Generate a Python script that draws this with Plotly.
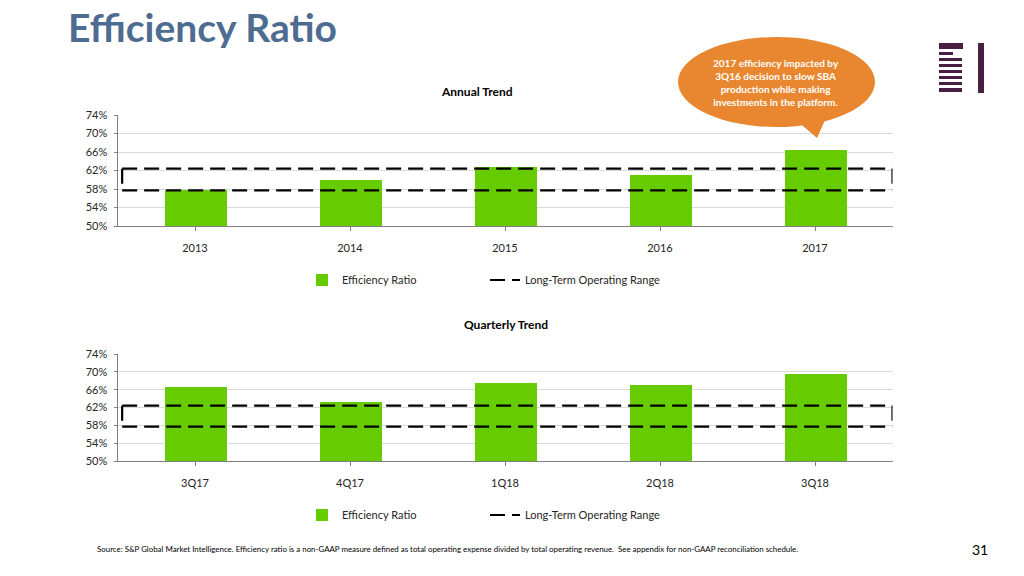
import numpy as np
import plotly.graph_objects as go

# ---- data ----
annual_years = ["2013", "2014", "2015", "2016", "2017"]
annual_eff = [57.8, 60.0, 62.8, 61.0, 66.4]
quarters = ["3Q17", "4Q17", "1Q18", "2Q18", "3Q18"]
quarterly_eff = [66.5, 63.2, 67.5, 67.0, 69.5]
range_low = 57.7
range_high = 62.4
y_ticks = [50, 54, 58, 62, 66, 70, 74]

W, H = 1024, 576
FONT = "Lato"
GREEN = "#66CC00"
TXT = "#262626"

def px(x):
    return x / W

def py(y):
    return 1 - y / H

fig = go.Figure()

x_left, x_right = 117.5, 892.5
top_dom = [py(226), py(115)]
bot_dom = [py(461), py(354)]

def add_chart(cats, vals, xa, ya, leg_bar, leg_rng):
    idx = list(range(len(cats)))
    fig.add_trace(go.Bar(x=idx, y=vals, marker=dict(color=GREEN, line=dict(width=0)),
                         width=0.4, name="Efficiency Ratio", xaxis=xa, yaxis=ya,
                         legend=leg_bar, showlegend=True, hoverinfo="skip"))
    n = len(cats)
    xl, xr = -0.47, n - 0.5
    # rectangle drawn as separate sides so each dash pattern starts at a corner
    rx = [xl, xr, None, xr, xr, None, xl, xr, None, xl, xl]
    ry = [range_high, range_high, None, range_high, range_low, None,
          range_low, range_low, None, range_high, range_low]
    fig.add_trace(go.Scatter(
        x=rx, y=ry, mode="lines", connectgaps=False,
        line=dict(color="black", width=2.2, dash="15px,7px"),
        name="Long-Term Operating Range", xaxis=xa, yaxis=ya, legend=leg_rng,
        showlegend=True, hoverinfo="skip"))

add_chart(annual_years, annual_eff, "x", "y", "legend", "legend2")
add_chart(quarters, quarterly_eff, "x2", "y2", "legend3", "legend4")

axis_common = dict(showgrid=False, showline=True, linecolor="#808080", linewidth=1,
                   ticks="outside", ticklen=4, tickcolor="#808080",
                   tickfont=dict(family=FONT, size=11, color=TXT), zeroline=False,
                   range=[-0.5, 4.5], fixedrange=True, tickmode="array",
                   tickvals=list(range(5)), automargin=False)
yaxis_common = dict(showgrid=True, gridcolor="#D9D9D9", gridwidth=1, showline=True,
                    linecolor="#808080", linewidth=1, ticks="outside", ticklen=3,
                    tickcolor="#808080", tickvals=y_ticks,
                    ticktext=[f"{v}%" for v in y_ticks], tickmode="array",
                    tickfont=dict(family=FONT, size=11, color=TXT), range=[50, 74],
                    zeroline=False, fixedrange=True, ticklabelstandoff=4, automargin=False)

fig.update_layout(
    width=W, height=H, margin=dict(l=0, r=0, t=0, b=0, pad=0, autoexpand=False),
    paper_bgcolor="white", plot_bgcolor="white", bargap=0,
    xaxis=dict(domain=[px(x_left), px(x_right)], anchor="y", ticktext=annual_years,
               ticklabelstandoff=8, **axis_common),
    yaxis=dict(domain=top_dom, anchor="x", **yaxis_common),
    xaxis2=dict(domain=[px(x_left), px(x_right)], anchor="y2", ticktext=quarters,
                ticklabelstandoff=8, **axis_common),
    yaxis2=dict(domain=bot_dom, anchor="x2", **yaxis_common),
)

leg_font = dict(family=FONT, size=11, color=TXT)
def leg(x, y):
    return dict(x=px(x), y=py(y), xanchor="left", yanchor="middle", orientation="h",
                font=leg_font, bgcolor="rgba(0,0,0,0)", borderwidth=0, itemclick=False,
                itemdoubleclick=False)

fig.update_layout(legend=leg(302, 280), legend2=leg(485, 280),
                  legend3=leg(302, 515), legend4=leg(485, 515))

# ---- text ----
ann = []
ann.append(dict(text="<b>Efficiency Ratio</b>", x=px(66), y=py(27), xref="paper", yref="paper",
                xanchor="left", yanchor="middle", showarrow=False,
                font=dict(family=FONT, size=39, color="#4E6B91")))
ann.append(dict(text="<b>Annual Trend</b>", x=px(477), y=py(91), xref="paper", yref="paper",
                xanchor="center", yanchor="middle", showarrow=False,
                font=dict(family=FONT, size=12, color="black")))
ann.append(dict(text="<b>Quarterly Trend</b>", x=px(506), y=py(324), xref="paper", yref="paper",
                xanchor="center", yanchor="middle", showarrow=False,
                font=dict(family=FONT, size=12, color="black")))
ann.append(dict(text="Source: S&P Global Market Intelligence. Efficiency ratio is a non-GAAP measure defined as total operating expense divided by total operating revenue.  See appendix for non-GAAP reconciliation schedule.",
                x=px(95), y=py(549), xref="paper", yref="paper", xanchor="left", yanchor="middle",
                showarrow=False, font=dict(family=FONT, size=7.9, color="black")))
ann.append(dict(text="31", x=px(980), y=py(549), xref="paper", yref="paper", xanchor="center",
                yanchor="middle", showarrow=False, font=dict(family=FONT, size=14, color="black")))
ann.append(dict(text="<b>2017 efficiency impacted by<br>3Q16 decision to slow SBA<br>production while making<br>investments in the platform.</b>",
                x=px(776), y=py(82), xref="paper", yref="paper", xanchor="center", yanchor="middle",
                showarrow=False, align="center",
                font=dict(family=FONT, size=10, color="white")))
fig.update_layout(annotations=ann)

# ---- shapes: callout and logo ----
ORANGE = "#E8872F"
PURPLE = "#4A1F44"
shapes = []
shapes.append(dict(type="circle", xref="paper", yref="paper", x0=px(678), x1=px(875),
                   y0=py(127), y1=py(37), fillcolor=ORANGE, line=dict(width=0), layer="above"))
tail = f"M {px(796)},{py(120)} L {px(817)},{py(138)} L {px(826)},{py(118)} Z"
shapes.append(dict(type="path", xref="paper", yref="paper", path=tail, fillcolor=ORANGE,
                   line=dict(width=0), layer="above"))
# logo stripes
stripe_rows = [(43, 49, 963), (52, 55, 953), (58, 61, 962), (64, 67, 962), (70, 73, 962),
               (76, 79, 962), (82, 85, 962), (88, 92, 962)]
for (ya, yb, xr) in stripe_rows:
    shapes.append(dict(type="rect", xref="paper", yref="paper", x0=px(939), x1=px(xr),
                       y0=py(yb), y1=py(ya), fillcolor=PURPLE, line=dict(width=0)))
shapes.append(dict(type="rect", xref="paper", yref="paper", x0=px(978), x1=px(984),
                   y0=py(93), y1=py(43), fillcolor=PURPLE, line=dict(width=0)))
fig.update_layout(shapes=shapes)

fig.write_html("out.html", config={"displayModeBar": False},
               post_script="document.body.style.margin='0px';document.body.style.overflow='hidden';")
